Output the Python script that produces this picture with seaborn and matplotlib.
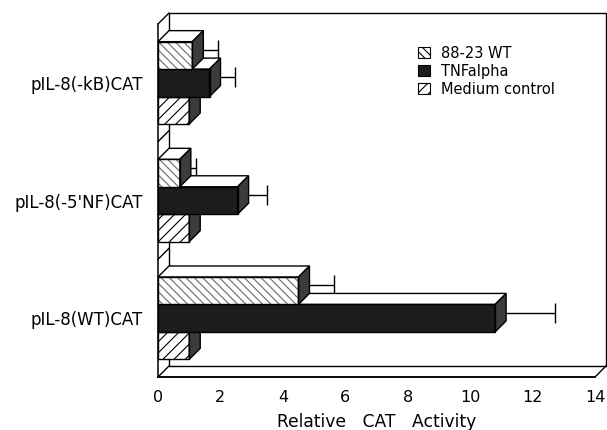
import numpy as np
import pandas as pd
import matplotlib
matplotlib.use("Agg")
import matplotlib.pyplot as plt
import matplotlib.transforms as mtransforms
from matplotlib.lines import Line2D
from matplotlib.patches import Polygon, Rectangle, Patch
import seaborn as sns

# ---------------------------------------------------------------------------
# Data
# ---------------------------------------------------------------------------
constructs = ["pIL-8(-kB)CAT", "pIL-8(-5'NF)CAT", "pIL-8(WT)CAT"]
treatments = ["88-23 WT", "TNFalpha", "Medium control"]
wt_88_23 = [1.1, 0.7, 4.5]
wt_88_23_err = [0.65, 0.35, 0.95]
tnf_alpha = [1.65, 2.55, 10.8]
tnf_alpha_err = [0.65, 0.75, 1.75]
medium = [1.0, 1.0, 1.0]
medium_err = [0.0, 0.0, 0.0]
x_ticks = [0, 2, 4, 6, 8, 10, 12, 14]

values = [wt_88_23, tnf_alpha, medium]
errors = [wt_88_23_err, tnf_alpha_err, medium_err]
df = pd.DataFrame({
    "construct": constructs * 3,
    "treatment": np.repeat(treatments, len(constructs)),
    "activity": wt_88_23 + tnf_alpha + medium,
})

# style
HATCHES = ["\\\\\\\\", "", "///"]
FACES = ["white", "#1c1c1c", "white"]
HATCH_EDGE = ["#6a6a6a", "#1c1c1c", "black"]
SIDE = "#3c3c3c"
DX, DY = 11, 11  # pseudo-3D depth, in pixels

sns.set_style("white")
plt.rcParams["font.family"] = ["DejaVu Sans"]
plt.rcParams["hatch.linewidth"] = 0.8
for key in ["text.color", "axes.labelcolor", "xtick.color", "ytick.color"]:
    plt.rcParams[key] = "black"

fig = plt.figure(figsize=(6.07, 4.30), dpi=100)
ax = fig.add_axes([158 / 607, 53 / 430, 437 / 607, 353 / 430])

sns.barplot(data=df, x="activity", y="construct", hue="treatment",
            order=constructs, hue_order=treatments, orient="h",
            width=0.7, errorbar=None, legend=False, ax=ax)
bar_groups = list(ax.containers)

ax.set_xlim(0, 14)
ax.set_ylim(2.5, -0.5)
for s in ["top", "right"]:
    ax.spines[s].set_visible(False)
for s in ["left", "bottom"]:
    ax.spines[s].set_linewidth(1.1)
    ax.spines[s].set_color("black")
ax.set_facecolor("none")

ident = mtransforms.IdentityTransform()

# bars: hatch, 3D faces
for k, cont in enumerate(bar_groups):
    z = 6 - k
    for bar in cont:
        bar.set_facecolor(FACES[k])
        bar.set_hatch(HATCHES[k])
        bar.set_edgecolor(HATCH_EDGE[k])
        bar.set_linewidth(0)
        bar.set_zorder(z)
        (x0, y0), (x1, y1) = bar.get_window_extent().get_points()
        top = Polygon([(x0, y1), (x1, y1), (x1 + DX, y1 + DY), (x0 + DX, y1 + DY)],
                      closed=True, facecolor="white", edgecolor="black", lw=1,
                      transform=ident, zorder=z + 0.1, clip_on=False)
        side = Polygon([(x1, y0), (x1, y1), (x1 + DX, y1 + DY), (x1 + DX, y0 + DY)],
                       closed=True, facecolor=SIDE, edgecolor="black", lw=1,
                       transform=ident, zorder=z + 0.1, clip_on=False)
        outline = Rectangle((x0, y0), x1 - x0, y1 - y0, fill=False,
                            edgecolor="black", lw=1, transform=ident,
                            zorder=z + 0.1, clip_on=False)
        for p in (top, side, outline):
            ax.add_artist(p)

# error bars (positive side only), drawn at mid-depth
mid = mtransforms.offset_copy(ax.transData, fig=fig, x=DX / 2, y=DY / 2, units="dots")
for k, cont in enumerate(bar_groups):
    if not any(errors[k]):
        continue
    ys = [b.get_y() + b.get_height() / 2 for b in cont]
    ax.errorbar(values[k], ys, xerr=[np.zeros(3), errors[k]], fmt="none",
                ecolor="black", elinewidth=1, capsize=7, capthick=1,
                transform=mid, zorder=2, clip_on=False)

# back wall / floor of the 3D box
def px(x, y):
    return ax.transAxes.transform((x, y))

(lx, by), (rx, ty) = px(0, 0), px(1, 1)
box = [
    [(lx + DX, ty + DY), (rx + DX, ty + DY)],
    [(rx + DX, ty + DY), (rx + DX, by + DY)],
    [(lx + DX, by + DY), (rx + DX, by + DY)],
    [(lx + DX, by + DY), (lx + DX, ty + DY)],
    [(rx, by), (rx + DX, by + DY)],
]
for yb in [-0.5, 0.5, 1.5, 2.5]:
    yy = ax.transData.transform((0, yb))[1]
    box.append([(lx, yy), (lx + DX, yy + DY)])
for seg in box:
    (xa, ya), (xb, yb_) = seg
    ax.add_artist(Line2D([xa, xb], [ya, yb_], color="black", lw=1,
                         transform=ident, zorder=1, clip_on=False))
ax.add_artist(Line2D([lx, rx], [by, by], color="black", lw=1.1,
                     transform=ident, zorder=1, clip_on=False))

# ticks and labels
ax.set_xticks(x_ticks)
ax.set_xticks(np.arange(1, 14, 2), minor=True)
ax.set_yticks([0, 1, 2], constructs)
ax.set_yticks([-0.5, 0.5, 1.5, 2.5], minor=True)
ax.tick_params(axis="x", which="major", length=4, width=1, labelsize=11.5, pad=5)
ax.tick_params(axis="x", which="minor", length=3, width=1)
ax.tick_params(axis="y", which="major", length=0, labelsize=12, pad=11)
ax.tick_params(axis="y", which="minor", length=4, width=1)
ax.set_xlabel("Relative   CAT   Activity", fontsize=12.3, labelpad=6)
ax.set_ylabel("")

handles = [Patch(facecolor=FACES[k], hatch=HATCHES[k], edgecolor="black", lw=0.8)
           for k in range(3)]
ax.legend(handles, treatments, loc="upper left", bbox_to_anchor=(0.565, 0.975),
          frameon=False, fontsize=10.5, handlelength=0.8, handleheight=0.8,
          handletextpad=0.8, labelspacing=0.2)

fig.savefig("out.png", dpi=100)
